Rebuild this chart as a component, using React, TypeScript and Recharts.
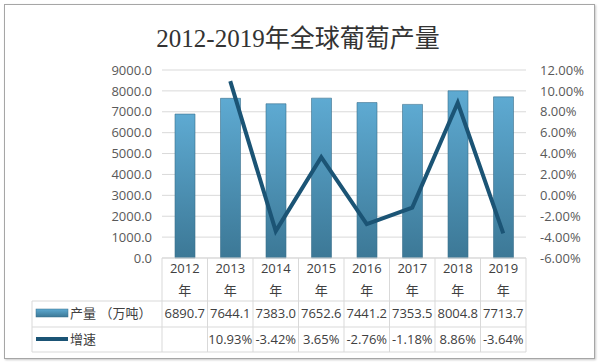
import React from "react";
import {
  ComposedChart,
  Bar,
  Line,
  XAxis,
  YAxis,
  CartesianGrid,
} from "recharts";

const years = ["2012", "2013", "2014", "2015", "2016", "2017", "2018", "2019"];
const output = [6890.7, 7644.1, 7383.0, 7652.6, 7441.2, 7353.5, 8004.8, 7713.7];
const growth: (number | null)[] = [null, 10.93, -3.42, 3.65, -2.76, -1.18, 8.86, -3.64];
const leftTicks = [0, 1000, 2000, 3000, 4000, 5000, 6000, 7000, 8000, 9000];
const rightTicks = [-6, -4, -2, 0, 2, 4, 6, 8, 10, 12];

const data = years.map((y, i) => ({ year: y, output: output[i], growth: growth[i] }));

const W = 599;
const H = 363;
const PLOT_LEFT = 162;
const PLOT_RIGHT = 526;
const PLOT_TOP = 70;
const PLOT_BOTTOM = 258;
const BAND = (PLOT_RIGHT - PLOT_LEFT) / years.length;
const LABEL_COL = 130;
const ROW1 = 301;
const ROW2 = 327;
const ROW3 = 352;

const FONT = '"Open Sans", "Noto Sans CJK SC", sans-serif';
const GRID = "#d9d9d9";
const TXT = "#404040";
const LINE_COLOR = "#1b5475";

function TableTick(props: any) {
  const { x, y, payload, index } = props;
  const i = years.indexOf(payload.value);
  const g = growth[i];
  const left = x - BAND / 2;
  return (
    <g fontFamily={FONT} fontSize={13} fill={TXT}>
      {index === 0 && (
        <g>
          <line x1={left} y1={y} x2={left} y2={ROW3} stroke={GRID} />
          <line x1={left - LABEL_COL} y1={ROW1} x2={PLOT_RIGHT} y2={ROW1} stroke={GRID} />
          <line x1={left - LABEL_COL} y1={ROW2} x2={PLOT_RIGHT} y2={ROW2} stroke={GRID} />
          <line x1={left - LABEL_COL} y1={ROW3} x2={PLOT_RIGHT} y2={ROW3} stroke={GRID} />
          <line x1={left - LABEL_COL} y1={ROW1} x2={left - LABEL_COL} y2={ROW3} stroke={GRID} />
          <rect x={left - LABEL_COL + 4} y={ROW1 + 8} width={32} height={8} fill="url(#barGrad)" stroke="#3a6f8c" strokeWidth={0.5} />
          <text x={left - LABEL_COL + 38} y={ROW1 + 17} fill={TXT}>产量 （万吨）</text>
          <line x1={left - LABEL_COL + 4} y1={ROW2 + 12} x2={left - LABEL_COL + 36} y2={ROW2 + 12} stroke={LINE_COLOR} strokeWidth={4} />
          <text x={left - LABEL_COL + 38} y={ROW2 + 17} fill={TXT}>增速</text>
        </g>
      )}
      <line x1={x + BAND / 2} y1={y} x2={x + BAND / 2} y2={ROW3} stroke={GRID} />
      <text x={x} y={y + 15} textAnchor="middle" fill={TXT}>{payload.value}</text>
      <text x={x} y={y + 37} textAnchor="middle" fill={TXT}>年</text>
      <text x={x} y={ROW1 + 17} textAnchor="middle" fill={TXT}>{output[i].toFixed(1)}</text>
      {g !== null && (
        <text x={x} y={ROW2 + 17} textAnchor="middle" fill={TXT}>{g.toFixed(2)}%</text>
      )}
    </g>
  );
}

export default function App() {
  return (
    <div style={{ position: "relative", width: W, height: H, background: "#fff" }}>
      <style>{`body{margin:0}`}</style>
      <div
        style={{
          position: "absolute",
          left: 4,
          top: 4,
          width: 589,
          height: 353,
          border: "1px solid #a6a6a6",
          boxShadow: "1px 1px 2px #c8c8c8",
          pointerEvents: "none",
        }}
      />
      <div
        style={{
          position: "absolute",
          left: 0,
          top: 18,
          width: 596,
          textAlign: "center",
          fontFamily: '"Liberation Serif", "Noto Sans CJK SC", serif',
          fontSize: 25,
          color: "#333",
        }}
      >
        2012-2019年全球葡萄产量
      </div>
      <ComposedChart
        width={W}
        height={H}
        data={data}
        margin={{ top: PLOT_TOP, right: 0, bottom: 0, left: 0 }}
        barCategoryGap={0}
      >
        <defs>
          <linearGradient id="barGrad" x1="0" y1="0" x2="0" y2="1">
            <stop offset="0%" stopColor="#5eaad2" />
            <stop offset="100%" stopColor="#3c7896" />
          </linearGradient>
        </defs>
        <CartesianGrid yAxisId="left" vertical={false} stroke={GRID} />
        <XAxis
          dataKey="year"
          height={H - PLOT_BOTTOM}
          tickLine={false}
          tickSize={0}
          tickMargin={0}
          axisLine={{ stroke: GRID }}
          interval={0}
          tick={<TableTick />}
        />
        <YAxis
          yAxisId="left"
          width={PLOT_LEFT}
          domain={[0, 9000]}
          ticks={leftTicks}
          interval={0}
          tickFormatter={(v: number) => v.toFixed(1)}
          axisLine={false}
          tickLine={false}
          tickMargin={4}
          tick={{ fill: "#595959", fontSize: 13, fontFamily: FONT }}
        />
        <YAxis
          yAxisId="right"
          orientation="right"
          width={W - PLOT_RIGHT}
          domain={[-6, 12]}
          ticks={rightTicks}
          interval={0}
          tickFormatter={(v: number) => `${v.toFixed(2)}%`}
          axisLine={false}
          tickLine={false}
          tickMargin={8}
          tick={{ fill: "#595959", fontSize: 13, fontFamily: FONT, textAnchor: "start" }}
        />
        <Bar
          yAxisId="left"
          dataKey="output"
          barSize={20}
          fill="url(#barGrad)"
          stroke="#3a6f8c"
          strokeWidth={0.6}
          isAnimationActive={false}
        />
        <Line
          yAxisId="right"
          dataKey="growth"
          stroke={LINE_COLOR}
          strokeWidth={4}
          dot={false}
          activeDot={false}
          isAnimationActive={false}
        />
      </ComposedChart>
    </div>
  );
}
